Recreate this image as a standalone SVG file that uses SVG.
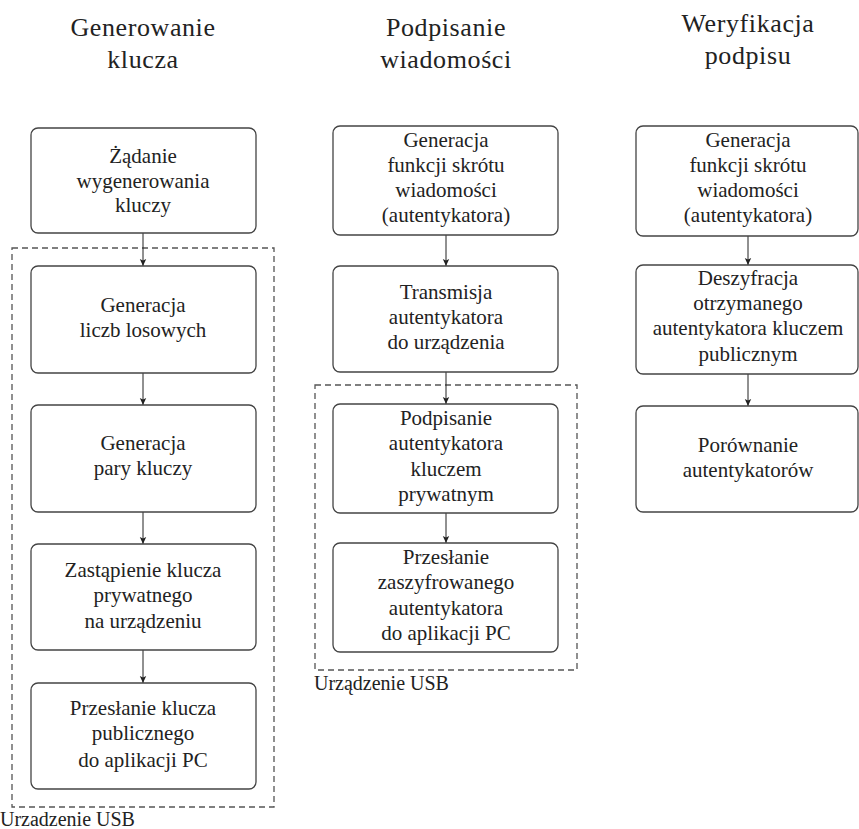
<svg xmlns="http://www.w3.org/2000/svg" width="859" height="829" viewBox="0 0 859 829">
<style>
.bg{fill:#ffffff}
.box{fill:#ffffff;stroke:#444444;stroke-width:1.3}
text{font-family:"Liberation Serif","Tinos","Noto Serif","DejaVu Serif","Times New Roman",Times,serif;fill:#222222}
.t{font-size:21px;text-anchor:middle}
.title{font-size:26px;text-anchor:middle;letter-spacing:0.6px}
.lbl{font-size:20px}
.dash{fill:none;stroke:#555555;stroke-width:1.3;stroke-dasharray:6,4}
.con{stroke:#222222;stroke-width:1;fill:none;marker-end:url(#ah)}
</style>
<defs>
<marker id="ah" markerWidth="8" markerHeight="8" refX="7" refY="4" orient="auto" markerUnits="userSpaceOnUse">
<path d="M0,0.8 L7,4 L0,7.2 L1.6,4 Z" fill="#222222"/>
</marker>
</defs>
<rect class="bg" x="0" y="0" width="859" height="829"/>

<g id="titles">
<text class="title" x="143" y="36">Generowanie<tspan x="143" dy="32">klucza</tspan></text>
<text class="title" x="446" y="36">Podpisanie<tspan x="446" dy="32">wiadomości</tspan></text>
<text class="title" x="748" y="32">Weryfikacja<tspan x="748" dy="32">podpisu</tspan></text>
</g>

<g id="usb1">
<rect class="dash" x="12" y="248" width="262" height="559"/>
<text class="lbl" x="0" y="826">Urzadzenie USB</text>
</g>
<g id="usb2">
<rect class="dash" x="315" y="385" width="262" height="285"/>
<text class="lbl" x="314" y="690">Urządzenie USB</text>
</g>

<g id="connectors">
<line class="con" x1="143" y1="233" x2="143" y2="266"/>
<line class="con" x1="143" y1="373" x2="143" y2="405"/>
<line class="con" x1="143" y1="512" x2="143" y2="544"/>
<line class="con" x1="143" y1="650" x2="143" y2="683"/>
<line class="con" x1="446" y1="235" x2="446" y2="266"/>
<line class="con" x1="446" y1="372" x2="446" y2="404"/>
<line class="con" x1="446" y1="513" x2="446" y2="543"/>
<line class="con" x1="748" y1="236" x2="748" y2="265"/>
<line class="con" x1="748" y1="374" x2="748" y2="406"/>
</g>

<g id="n1">
<rect class="box" x="31" y="128" width="225" height="105" rx="7"/>
<text class="t" x="143" y="163">Żądanie</text>
<text class="t" x="143" y="188">wygenerowania</text>
<text class="t" x="143" y="212">kluczy</text>
</g>
<g id="n2">
<rect class="box" x="31" y="266" width="225" height="107" rx="7"/>
<text class="t" x="143" y="312">Generacja</text>
<text class="t" x="143" y="337">liczb losowych</text>
</g>
<g id="n3">
<rect class="box" x="31" y="405" width="225" height="107" rx="7"/>
<text class="t" x="143" y="450">Generacja</text>
<text class="t" x="143" y="475">pary kluczy</text>
</g>
<g id="n4">
<rect class="box" x="31" y="544" width="225" height="106" rx="7"/>
<text class="t" x="143" y="577">Zastąpienie klucza</text>
<text class="t" x="143" y="602">prywatnego</text>
<text class="t" x="143" y="628">na urządzeniu</text>
</g>
<g id="n5">
<rect class="box" x="31" y="683" width="225" height="106" rx="7"/>
<text class="t" x="143" y="715">Przesłanie klucza</text>
<text class="t" x="143" y="740">publicznego</text>
<text class="t" x="143" y="767">do aplikacji PC</text>
</g>

<g id="m1">
<rect class="box" x="333" y="126" width="225" height="109" rx="7"/>
<text class="t" x="446" y="147">Generacja</text>
<text class="t" x="446" y="172">funkcji skrótu</text>
<text class="t" x="446" y="197">wiadomości</text>
<text class="t" x="446" y="222">(autentykatora)</text>
</g>
<g id="m2">
<rect class="box" x="333" y="266" width="225" height="106" rx="7"/>
<text class="t" x="446" y="299">Transmisja</text>
<text class="t" x="446" y="324">autentykatora</text>
<text class="t" x="446" y="349">do urządzenia</text>
</g>
<g id="m3">
<rect class="box" x="333" y="404" width="225" height="109" rx="7"/>
<text class="t" x="446" y="425">Podpisanie</text>
<text class="t" x="446" y="450">autentykatora</text>
<text class="t" x="446" y="476">kluczem</text>
<text class="t" x="446" y="501">prywatnym</text>
</g>
<g id="m4">
<rect class="box" x="333" y="543" width="225" height="109" rx="7"/>
<text class="t" x="446" y="564">Przesłanie</text>
<text class="t" x="446" y="589">zaszyfrowanego</text>
<text class="t" x="446" y="615">autentykatora</text>
<text class="t" x="446" y="640">do aplikacji PC</text>
</g>

<g id="v1">
<rect class="box" x="636" y="126" width="222" height="110" rx="7"/>
<text class="t" x="748" y="147">Generacja</text>
<text class="t" x="748" y="172">funkcji skrótu</text>
<text class="t" x="748" y="197">wiadomości</text>
<text class="t" x="748" y="222">(autentykatora)</text>
</g>
<g id="v2">
<rect class="box" x="636" y="265" width="222" height="109" rx="7"/>
<text class="t" x="748" y="285">Deszyfracja</text>
<text class="t" x="748" y="310">otrzymanego</text>
<text class="t" x="748" y="335">autentykatora kluczem</text>
<text class="t" x="748" y="361">publicznym</text>
</g>
<g id="v3">
<rect class="box" x="636" y="406" width="222" height="106" rx="7"/>
<text class="t" x="748" y="452">Porównanie</text>
<text class="t" x="748" y="477">autentykatorów</text>
</g>
</svg>
